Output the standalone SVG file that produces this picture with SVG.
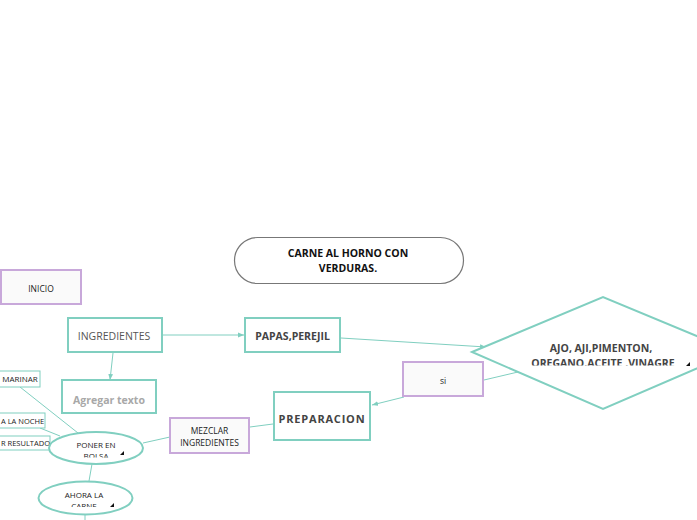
<svg xmlns="http://www.w3.org/2000/svg" width="697" height="520" viewBox="0 0 697 520">
<style>
  text { font-family: "Open Sans", "Liberation Sans", sans-serif; fill: #3a3a3a; text-anchor: middle; }
  .t { fill: #ffffff; stroke: #80cfc0; stroke-width: 2; }
  .p { fill: #fafafa; stroke: #c8a8da; stroke-width: 2; }
  .pt { fill: #ffffff; stroke: #80cfc0; stroke-width: 1; }
  .e { fill: #ffffff; stroke: #80cfc0; stroke-width: 2; }
  .c { stroke: #80cfc0; stroke-width: 1; fill: none; }
  .b { font-weight: bold; font-size: 10.5px; fill: #444; }
  .s { font-size: 8.5px; fill: #222; }
  .l { text-anchor: start; font-size: 7.5px; }
  .tri { fill: #111; }
</style>
<defs>
  <marker id="ah" viewBox="0 0 10 10" refX="10" refY="5" markerWidth="6" markerHeight="6" orient="auto" markerUnits="userSpaceOnUse">
    <path d="M0,1 L10,5 L0,9 z" fill="#80cfc0"/>
  </marker>
  <clipPath id="cd"><rect x="470" y="290" width="230" height="75.5"/></clipPath>
  <clipPath id="cp"><rect x="40" y="430" width="110" height="27.5"/></clipPath>
  <clipPath id="ca"><rect x="30" y="478" width="110" height="29"/></clipPath>
</defs>

<g id="connectors">
  <line class="c" x1="163" y1="335" x2="244" y2="335" marker-end="url(#ah)"/>
  <line class="c" x1="113" y1="353" x2="110" y2="380" marker-end="url(#ah)"/>
  <line class="c" x1="341" y1="338" x2="486" y2="347" marker-end="url(#ah)"/>
  <line class="c" x1="518" y1="372" x2="484" y2="380"/>
  <line class="c" x1="404" y1="397" x2="372" y2="405" marker-end="url(#ah)"/>
  <line class="c" x1="273" y1="424" x2="250" y2="427"/>
  <line class="c" x1="170" y1="437" x2="143" y2="443"/>
  <line class="c" x1="20" y1="387" x2="78" y2="433"/>
  <line class="c" x1="40" y1="428" x2="60" y2="436"/>
  <line class="c" x1="92" y1="464" x2="89" y2="481"/>
  <line class="c" x1="85" y1="515" x2="85" y2="520"/>
</g>

<g id="title">
  <rect x="234.5" y="237.5" width="229" height="46" rx="23" fill="#fff" stroke="#777" stroke-width="1.2"/>
  <text class="b" x="348" y="257" style="fill:#111">CARNE AL HORNO CON</text>
  <text class="b" x="348" y="272" style="fill:#111">VERDURAS.</text>
</g>

<g id="inicio">
  <rect class="p" x="1" y="270" width="80" height="34"/>
  <text class="s" x="41" y="292">INICIO</text>
</g>

<g id="ingredientes">
  <rect class="t" x="68" y="318" width="94" height="34"/>
  <text x="114" y="340" style="font-size:10.5px;fill:#555">INGREDIENTES</text>
</g>

<g id="papas">
  <rect class="t" x="245" y="318" width="95" height="34"/>
  <text class="b" x="292.5" y="340">PAPAS,PEREJIL</text>
</g>

<g id="agregar">
  <rect class="t" x="62" y="380" width="94" height="33"/>
  <text class="b" x="109" y="404" style="fill:#a8a8a8">Agregar texto</text>
</g>

<g id="ajo">
  <polygon class="t" points="472,352 603,297 735,352 603,409"/>
  <g clip-path="url(#cd)">
    <text class="b" x="601" y="352">AJO, AJI,PIMENTON,</text>
    <text class="b" x="603" y="367">OREGANO,ACEITE ,VINAGRE</text>
  </g>
  <polygon class="tri" points="686,366 690,366 690,362"/>
</g>

<g id="si">
  <rect class="p" x="403" y="362" width="80" height="34"/>
  <text class="s" x="443" y="384">si</text>
</g>

<g id="preparacion">
  <rect class="t" x="274" y="392" width="96" height="48"/>
  <text class="b" x="322" y="423" style="font-size:11px;letter-spacing:0.8px">PREPARACION</text>
</g>

<g id="mezclar">
  <rect class="p" x="170" y="418" width="79" height="35"/>
  <text class="s" x="209.5" y="434">MEZCLAR</text>
  <text class="s" x="209.5" y="446">INGREDIENTES</text>
</g>

<g id="marinar">
  <rect class="pt" x="-2" y="371" width="42" height="16"/>
  <text class="s" x="20" y="382" style="font-size:8px">MARINAR</text>
</g>

<g id="noche">
  <rect class="pt" x="-2" y="413" width="47" height="15"/>
  <text class="s l" x="1" y="424">A LA NOCHE</text>
</g>

<g id="resultado">
  <rect class="pt" x="-2" y="436" width="52" height="14"/>
  <text class="s l" x="1" y="446">R RESULTADO</text>
</g>

<g id="poner">
  <ellipse class="e" cx="96" cy="448" rx="47" ry="16"/>
  <g clip-path="url(#cp)">
    <text class="s" x="96" y="448" style="font-size:8px">PONER EN</text>
    <text class="s" x="96" y="459" style="font-size:8px">BOLSA</text>
  </g>
  <polygon class="tri" points="120,455 124,455 124,451"/>
</g>

<g id="ahora">
  <ellipse class="e" cx="85.5" cy="498" rx="47" ry="16.5"/>
  <g clip-path="url(#ca)">
    <text class="s" x="84" y="498" style="font-size:8px">AHORA LA</text>
    <text class="s" x="84" y="509" style="font-size:8px">CARNE</text>
  </g>
  <polygon class="tri" points="110,507 114,507 114,503"/>
</g>
</svg>
